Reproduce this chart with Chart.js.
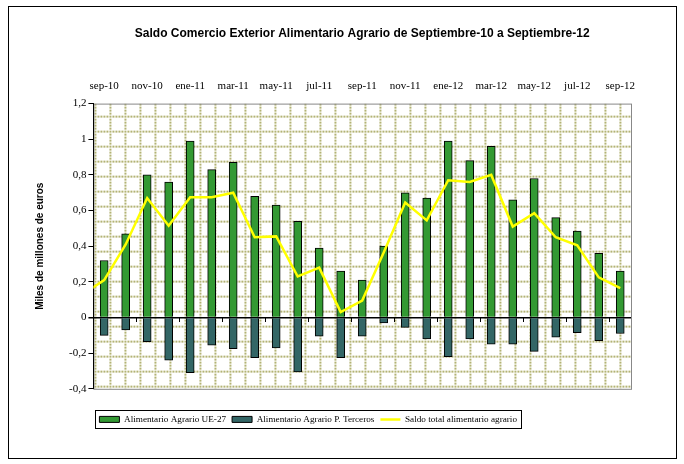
<!DOCTYPE html>
<html>
<head>
<meta charset="utf-8">
<script src="https://cdn.jsdelivr.net/npm/chart.js@4.4.1/dist/chart.umd.min.js"></script>
<style>
  html, body { margin: 0; padding: 0; background: #fff; }
</style>
</head>
<body>
<canvas id="chart" width="684" height="464"></canvas>
<script>
// ago-10 is only there so the saldo line comes in from the left edge, like the original
var months = ['ago-10', 'sep-10', 'oct-10', 'nov-10', 'dic-10', 'ene-11', 'feb-11', 'mar-11', 'abr-11', 'may-11',
  'jun-11', 'jul-11', 'ago-11', 'sep-11', 'oct-11', 'nov-11', 'dic-11', 'ene-12', 'feb-12', 'mar-12',
  'abr-12', 'may-12', 'jun-12', 'jul-12', 'ago-12', 'sep-12'];
var ue27 = [null, 0.32, 0.47, 0.80, 0.76, 0.99, 0.83, 0.87, 0.68, 0.63, 0.54, 0.39, 0.26, 0.21,
  0.40, 0.70, 0.67, 0.99, 0.88, 0.96, 0.66, 0.78, 0.56, 0.485, 0.36, 0.26];
var terceros = [null, -0.10, -0.07, -0.135, -0.24, -0.31, -0.155, -0.175, -0.225, -0.17, -0.305, -0.105, -0.225,
  -0.105, -0.03, -0.055, -0.12, -0.22, -0.12, -0.15, -0.15, -0.19, -0.11, -0.085, -0.13, -0.09];
var saldo = [0.13, 0.21, 0.41, 0.67, 0.515, 0.675, 0.675, 0.70, 0.45, 0.455, 0.23, 0.28, 0.03, 0.095,
  0.365, 0.645, 0.545, 0.77, 0.76, 0.80, 0.51, 0.585, 0.45, 0.405, 0.225, 0.165];
var yTickLabels = ['-0,4', '-0,2', '0', '0,2', '0,4', '0,6', '0,8', '1', '1,2'];

var seriesNames = ['Alimentario Agrario UE-27', 'Alimentario Agrario P. Terceros', 'Saldo total alimentario agrario'];

function points(arr) {
  return arr.map(function(v, i) { return {x: i, y: v}; });
}

// excel "dotted grid" fill of the plot area
function makePattern(ctx) {
  var c = document.createElement('canvas');
  c.width = 15; c.height = 15;
  var g = c.getContext('2d');
  g.fillStyle = '#b3b374';
  for (var k = 0; k < 15; k += 3) {
    g.fillRect(k, 0, 2, 2);
    if (k > 0) g.fillRect(0, k, 2, 2);
  }
  return ctx.createPattern(c, 'repeat');
}

var frame = {
  id: 'frame',
  beforeDraw: function(chart) {
    var ctx = chart.ctx, a = chart.chartArea;
    ctx.save();
    ctx.fillStyle = '#fff';
    ctx.fillRect(0, 0, chart.width, chart.height);
    ctx.strokeStyle = '#000';
    ctx.lineWidth = 1;
    ctx.strokeRect(8.5, 6.5, 668, 452);
    var p = makePattern(ctx);
    p.setTransform(new DOMMatrix().translate(a.left + 1, a.top + 12));
    ctx.fillStyle = p;
    ctx.fillRect(a.left, a.top, a.right - a.left, a.bottom - a.top);
    ctx.strokeStyle = '#888';
    ctx.strokeRect(a.left + 0.5, a.top + 0.5, a.right - a.left, a.bottom - a.top);
    ctx.restore();
  },
  afterDraw: function(chart) {
    var hb = chart.legend.legendHitBoxes;
    if (!hb || !hb.length) return;
    var l = hb[0].left, r = hb[hb.length - 1].left + hb[hb.length - 1].width;
    var t = hb[0].top, b = hb[0].top + hb[0].height;
    var ctx = chart.ctx;
    ctx.save();
    ctx.strokeStyle = '#000';
    ctx.lineWidth = 1;
    ctx.strokeRect(Math.round(l - 4) + 0.5, Math.round(t - 5) + 0.5, Math.round(r - l + 8), Math.round(b - t + 9));
    ctx.restore();
  }
};

var ctx = document.getElementById('chart');

var chart = new Chart(ctx, {
  type: 'bar',
  data: {
    datasets: [{
      label: seriesNames[0],
      data: points(ue27),
      backgroundColor: '#339933',
      borderColor: '#000',
      borderWidth: 1,
      pointStyle: 'rect',
      order: 1
    }, {
      label: seriesNames[1],
      data: points(terceros),
      backgroundColor: '#336666',
      borderColor: '#000',
      borderWidth: 1,
      pointStyle: 'rect',
      order: 1
    }, {
      type: 'line',
      label: seriesNames[2],
      data: points(saldo),
      borderColor: '#ffff00',
      backgroundColor: '#ffff00',
      borderWidth: 2.5,
      pointRadius: 0,
      pointStyle: 'line',
      tension: 0,
      clip: 0,
      order: 0
    }]
  },
  options: {
    responsive: false,
    animation: false,
    devicePixelRatio: 1,
    grouped: false,
    barThickness: 8,
    layout: {padding: {top: 0, left: 24, right: 53, bottom: 30}},
    scales: {
      x: {
        type: 'linear',
        position: 'top',
        offset: false,
        min: 0.5,
        max: 25.5,
        grid: {display: false, drawTicks: false, offset: false},
        border: {display: false},
        afterBuildTicks: function(axis) {
          axis.ticks = months.map(function(m, i) { return {value: i}; })
            .filter(function(t) { return t.value % 2 === 1; });
        },
        ticks: {
          autoSkip: false,
          maxRotation: 0,
          padding: 11,
          color: '#000',
          font: {family: 'Liberation Serif', size: 11},
          callback: function(v) { return months[v]; }
        }
      },
      // small tick marks hanging under the zero line
      x2: {
        type: 'linear',
        position: {y: 0},
        offset: false,
        min: 0.5,
        max: 25.5,
        border: {display: false},
        grid: {drawOnChartArea: false, drawTicks: true, tickLength: 4, color: '#000', offset: false},
        afterBuildTicks: function(axis) {
          var t = [];
          for (var i = 2; i < months.length - 1; i += 2) t.push({value: i + 0.5});
          axis.ticks = t;
        },
        ticks: {display: false, autoSkip: false}
      },
      y: {
        min: -0.4,
        max: 1.2,
        ticks: {
          stepSize: 0.2,
          padding: 2,
          color: '#000',
          font: {family: 'Liberation Serif', size: 11},
          callback: function(v) { return yTickLabels[Math.round((v + 0.4) / 0.2)]; }
        },
        grid: {
          color: function(c) { return Math.abs(c.tick.value) < 1e-9 ? '#000' : 'rgba(0,0,0,0)'; },
          lineWidth: function(c) { return Math.abs(c.tick.value) < 1e-9 ? 1.5 : 1; },
          tickColor: '#000',
          tickLength: 5
        },
        border: {color: '#000', width: 1},
        title: {
          display: true,
          text: 'Miles de millones de euros',
          color: '#000',
          font: {family: 'Liberation Sans', size: 10, weight: 'bold'},
          padding: {top: 10, bottom: 21}
        }
      }
    },
    plugins: {
      title: {
        display: true,
        fullSize: false,
        text: 'Saldo Comercio Exterior Alimentario Agrario de Septiembre-10 a Septiembre-12',
        color: '#000',
        font: {family: 'Liberation Sans', size: 12, weight: 'bold'},
        padding: {top: 26, bottom: 28}
      },
      legend: {
        position: 'bottom',
        fullSize: false,
        align: 'start',
        title: {display: true, text: '', font: {size: 10}, padding: 4},
        labels: {
          usePointStyle: true,
          pointStyleWidth: 20,
          boxHeight: 6,
          padding: 6,
          color: '#000',
          font: {family: 'Liberation Serif', size: 9.2},
          sort: function(a, b) { return a.datasetIndex - b.datasetIndex; }
        }
      },
      tooltip: {enabled: false}
    }
  },
  plugins: [frame]
});
</script>
</body>
</html>
